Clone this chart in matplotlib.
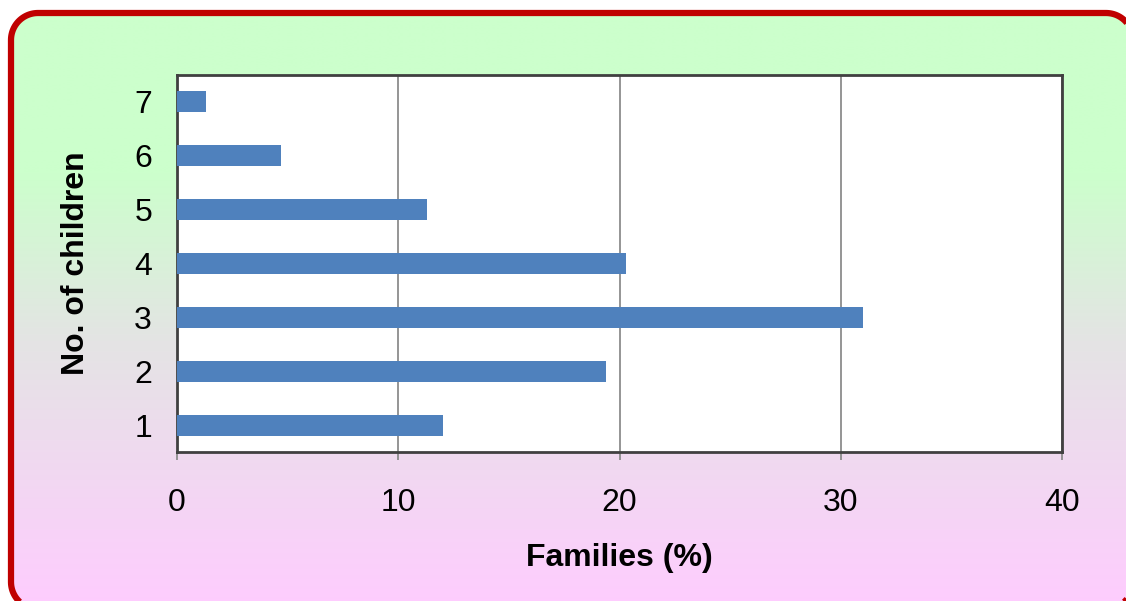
import numpy as np
import matplotlib
matplotlib.use("Agg")
import matplotlib.pyplot as plt
from matplotlib.patches import Polygon
from matplotlib.colors import to_rgb

plt.rcParams['font.family'] = ['Liberation Sans', 'DejaVu Sans']

# Data
children = [1, 2, 3, 4, 5, 6, 7]
families_pct = [12.0, 19.4, 31.0, 20.3, 11.3, 4.7, 1.3]
x_ticks = [0, 10, 20, 30, 40]
x_label = "Families (%)"
y_label = "No. of children"

W, H = 1126, 601
fig = plt.figure(figsize=(W / 100, H / 100), dpi=100)

# Background with rounded border and gradient (pixel coords, y up)
bg = fig.add_axes([0, 0, 1, 1], zorder=0)
bg.set_xlim(0, W)
bg.set_ylim(0, H)
bg.axis('off')

stops = [(0.0, '#CCFFCC'), (0.27, '#CCFFCC'), (0.55, '#E4E4E4'), (1.0, '#FFCCFF')]
n = 600
t = np.linspace(0, 1, n)
pos = [s[0] for s in stops]
cols = np.array([to_rgb(s[1]) for s in stops])
grad = np.stack([np.interp(t, pos, cols[:, k]) for k in range(3)], axis=1)
img = np.repeat(grad[:, None, :], 2, axis=1)


def rounded_rect(xa, ya, xb, yb, r, npts=24):
    pts = []
    corners = [(xb - r, yb - r, 0), (xa + r, yb - r, 90),
               (xa + r, ya + r, 180), (xb - r, ya + r, 270)]
    for cx, cy, a0 in corners:
        ang = np.radians(np.linspace(a0, a0 + 90, npts))
        pts.extend(zip(cx + r * np.cos(ang), cy + r * np.sin(ang)))
    return np.array(pts)


# box in top-down pixel coords
x0, y0t, x1, y1t = 11, 13, 1133, 609
rad = 27
verts = rounded_rect(x0, H - y1t, x1, H - y0t, rad)
clip_poly = Polygon(verts, closed=True, facecolor='none', edgecolor='none',
                    transform=bg.transData)
border = Polygon(verts, closed=True, facecolor='none', edgecolor='#C00000',
                 linewidth=4.5, zorder=3, clip_on=False, joinstyle='round')
bg.add_patch(border)
im = bg.imshow(img, extent=(x0, x1, H - y1t, H - y0t), origin='upper',
               aspect='auto', zorder=1, interpolation='bilinear')
im.set_clip_path(clip_poly)

# Main axes
L, R, T, B = 177, 1062, 75, 452
ax = fig.add_axes([L / W, (H - B) / H, (R - L) / W, (B - T) / H], zorder=2)
ax.set_facecolor('white')
ax.barh(children, families_pct, height=0.39, color='#4F81BD', zorder=3)
ax.set_xlim(0, 40)
ax.set_ylim(0.5, 7.5)
ax.set_xticks(x_ticks)
ax.set_yticks(children)
ax.xaxis.grid(True, color='#8C8C8C', linewidth=1.3, zorder=1)
ax.set_axisbelow(True)
for s in ax.spines.values():
    s.set_color('#404040')
    s.set_linewidth(2.0)
ax.tick_params(axis='x', length=6, width=1.3, color='#8C8C8C', direction='out',
               labelsize=23, pad=20)
ax.tick_params(axis='y', length=0, labelsize=23, pad=18)
ax.set_xlabel(x_label, fontsize=23, fontweight='bold', labelpad=18)
ax.set_ylabel(y_label, fontsize=23, fontweight='bold', labelpad=31)

fig.savefig("out.png", dpi=100)
